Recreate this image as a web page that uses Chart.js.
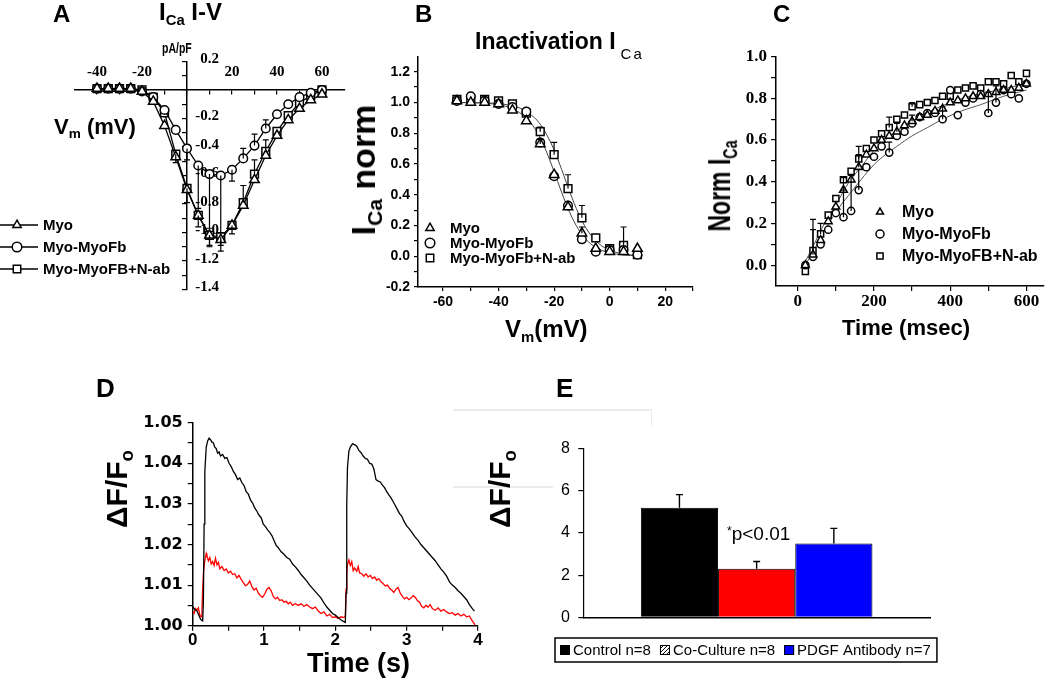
<!DOCTYPE html>
<html>
<head>
<meta charset="utf-8">
<script src="https://cdn.jsdelivr.net/npm/chart.js@4.4.0/dist/chart.umd.min.js"></script>
<style>
  html, body { margin: 0; padding: 0; background: #fff; }
  #page { position: relative; width: 1050px; height: 684px; overflow: hidden;
          font-family: "Liberation Sans", Arial, sans-serif; color: #000; }
  canvas { position: absolute; left: 0; top: 0; }
  .t { position: absolute; white-space: nowrap; line-height: 1; font-weight: bold; z-index: 5; }
  .t sub { font-size: 0.62em; vertical-align: -0.32em; line-height: 0; }
  .rot { transform-origin: 50% 50%; }
  .faint { position: absolute; background: #ececec; }
</style>
</head>
<body>
<div id="page">
  <canvas id="cA" width="1050" height="684"></canvas>
  <canvas id="cB" width="1050" height="684"></canvas>
  <canvas id="cC" width="1050" height="684"></canvas>
  <canvas id="cD" width="1050" height="684"></canvas>
  <canvas id="cE" width="1050" height="684"></canvas>

  <div class="faint" style="left:453px;top:409px;width:199px;height:2px"></div>
  <div class="faint" style="left:651px;top:410px;width:1px;height:17px"></div>
  <div class="faint" style="left:453px;top:486px;width:100px;height:2px"></div>

  <!-- panel letters -->
  <div class="t" style="left:53px;top:2px;font-size:24px">A</div>
  <div class="t" style="left:415px;top:2px;font-size:24px">B</div>
  <div class="t" style="left:773px;top:2px;font-size:24px">C</div>
  <div class="t" style="left:96px;top:375px;font-size:26px">D</div>
  <div class="t" style="left:556px;top:375px;font-size:26px">E</div>

  <!-- panel A texts -->
  <div class="t" style="left:159px;top:0px;font-size:24px">I<sub>Ca</sub> I-V</div>
  <div class="t" style="left:162px;top:40px;font-size:15px;transform:scaleX(0.7);transform-origin:0 0">pA/pF</div>
  <div class="t" style="left:54px;top:116px;font-size:22px">V<sub>m</sub> (mV)</div>

  <!-- panel B texts -->
  <div class="t" style="left:475px;top:30px;font-size:23px">Inactivation I<sub style="font-weight:normal;font-size:15px;letter-spacing:2px;margin-left:5px;vertical-align:-10px">Ca</sub></div>
  <div class="t rot" style="left:363px;top:170px;font-size:34px;transform:translate(-50%,-50%) rotate(-90deg)">I<sub>Ca</sub> norm</div>
  <div class="t" style="left:505px;top:317px;font-size:24px">V<sub>m</sub>(mV)</div>

  <!-- panel C texts -->
  <div class="t rot" style="left:720px;top:186px;font-size:23px;transform:translate(-50%,-50%) rotate(-90deg) scaleY(1.4)">Norm I<sub>Ca</sub></div>
  <div class="t" style="left:842px;top:317px;font-size:22px">Time (msec)</div>

  <!-- panel D texts -->
  <div class="t rot" style="left:117px;top:489px;font-size:30px;transform:translate(-50%,-50%) rotate(-90deg)">ΔF/F<sub>o</sub></div>
  <div class="t" style="left:307px;top:650px;font-size:27px">Time (s)</div>

  <!-- panel E texts -->
  <div class="t rot" style="left:500px;top:489px;font-size:30px;transform:translate(-50%,-50%) rotate(-90deg)">ΔF/F<sub>o</sub></div>
  <div class="t" style="left:727px;top:524px;font-size:19px;font-weight:normal"><span style="font-size:12px;vertical-align:5px">*</span>p&lt;0.01</div>
</div>

<script>
// ---------- Panel A : I-V relation ----------
const ivVoltage = [-40, -35, -30, -25, -20, -15, -10, -5, 0, 5, 10, 15, 20, 25, 30, 35, 40, 45, 50, 55, 60];
const ivMyo     = [0.01, 0.01, 0.01, 0.01, -0.01, -0.08, -0.25, -0.47, -0.70, -0.88, -1.02, -1.05, -0.95, -0.81, -0.63, -0.46, -0.32, -0.21, -0.13, -0.07, -0.03];
const ivMyoFb   = [0.01, 0.01, 0.01, 0.01, -0.01, -0.05, -0.14, -0.28, -0.41, -0.53, -0.59, -0.60, -0.56, -0.48, -0.39, -0.27, -0.17, -0.10, -0.05, -0.02, 0];
const ivNab     = [0.01, 0.01, 0.01, 0.01, 0, -0.05, -0.16, -0.45, -0.69, -0.88, -1.02, -1.03, -0.95, -0.79, -0.59, -0.43, -0.29, -0.18, -0.09, -0.04, 0];
// signed error bars (negative = drawn downward)
const ivMyoErr   = [0, 0, 0, 0, 0, 0, 0, 0, 0, 0, -0.07, -0.08, -0.06, 0, 0, 0, 0, 0, 0, 0, 0];
const ivMyoFbErr = [0, 0, 0, 0, 0, 0, 0, 0, -0.08, -0.3, -0.38, -0.4, -0.08, 0.07, 0.08, 0.06, 0, 0, 0, 0, 0];
const ivNabErr   = [0, 0, 0, 0, 0, 0, 0, -0.06, -0.1, -0.08, -0.08, -0.06, 0, 0.12, 0.1, 0.08, 0, 0, 0, 0, 0];
const ivTicksX  = [-40, -30, -20, -10, 0, 10, 20, 30, 40, 50, 60];
const ivTicksY  = [-1.4, -1.3, -1.2, -1.1, -1.0, -0.9, -0.8, -0.7, -0.6, -0.5, -0.4, -0.3, -0.2, -0.1, 0, 0.1, 0.2];
const ivLabelsX = [-40, -20, 20, 40, 60];
const ivLabelsY = [0.2, -0.2, -0.4, -0.6, -0.8, -1.0, -1.2, -1.4];

// ---------- Panel B : steady-state inactivation ----------
const inactV     = [-55, -50, -45, -40, -35, -30, -25, -20, -15, -10, -5, 0, 5, 10];
const inactMyo   = [1.01, 1.00, 1.00, 0.99, 0.95, 0.88, 0.73, 0.53, 0.32, 0.15, 0.05, 0.03, 0.03, 0.05];
const inactMyoFb = [1.01, 1.04, 1.01, 0.99, 0.97, 0.94, 0.74, 0.52, 0.33, 0.11, 0.03, 0.04, 0.04, 0.01];
const inactNab   = [1.02, 1.02, 1.02, 1.01, 0.99, 0.93, 0.81, 0.66, 0.44, 0.25, 0.12, 0.05, 0.07, 0.01];
const inactMyoErr = [0, 0, 0, 0, 0, 0, 0.03, 0, 0, 0.04, 0, 0, 0, 0];
const inactNabErr = [0, 0, 0, 0, 0, 0, 0.03, 0.08, 0.09, 0.08, 0, 0, 0.12, 0];
const inactFit1V = [-57, -50, -45, -40, -35, -30, -27, -24, -21, -18, -15, -12, -9, -6, -3, 0, 5, 10];
const inactFit1  = [1.00, 0.998, 0.995, 0.985, 0.961, 0.900, 0.832, 0.731, 0.599, 0.450, 0.310, 0.198, 0.119, 0.069, 0.039, 0.022, 0.008, 0.003];
const inactFit2V = [-57, -47, -42, -37, -32, -27, -24, -21, -18, -15, -12, -9, -6, -3, 0, 3, 8, 12];
const inactFit2  = [1.00, 0.998, 0.995, 0.985, 0.961, 0.900, 0.832, 0.731, 0.599, 0.450, 0.310, 0.198, 0.119, 0.069, 0.039, 0.022, 0.008, 0.003];
const inactTicksX  = [-60, -50, -40, -30, -20, -10, 0, 10, 20, 30];
const inactLabelsX = [-60, -40, -20, 0, 20];
const inactTicksY  = [-0.2, -0.1, 0, 0.1, 0.2, 0.3, 0.4, 0.5, 0.6, 0.7, 0.8, 0.9, 1.0, 1.1, 1.2];
const inactLabelsY = [-0.2, 0, 0.2, 0.4, 0.6, 0.8, 1.0, 1.2];

// ---------- Panel C : recovery from inactivation ----------
const recT     = [20, 40, 60, 80, 100, 120, 140, 160, 180, 200, 220, 240, 260, 280, 300, 320, 340, 360, 380, 400, 420, 440, 460, 480, 500, 520, 540, 560, 580, 600];
const recMyo   = [0.00, 0.05, 0.12, 0.21, 0.28, 0.36, 0.41, 0.47, 0.53, 0.56, 0.60, 0.62, 0.64, 0.67, 0.69, 0.71, 0.72, 0.74, 0.75, 0.78, 0.79, 0.80, 0.81, 0.81, 0.82, 0.83, 0.84, 0.84, 0.85, 0.87];
const recMyoFb = [0.00, 0.04, 0.10, 0.17, 0.25, 0.23, 0.26, 0.36, 0.47, 0.52, 0.57, 0.54, 0.62, 0.64, 0.68, 0.71, 0.73, 0.73, 0.70, 0.84, 0.72, 0.78, 0.80, 0.82, 0.73, 0.78, 0.84, 0.82, 0.80, 0.87];
const recNab   = [-0.03, 0.07, 0.15, 0.24, 0.32, 0.41, 0.45, 0.51, 0.56, 0.60, 0.63, 0.66, 0.70, 0.72, 0.76, 0.77, 0.78, 0.79, 0.81, 0.81, 0.84, 0.85, 0.86, 0.85, 0.88, 0.88, 0.87, 0.91, 0.88, 0.92];
const recMyoErr   = [0, 0.17, 0, 0, 0, 0.06, 0, 0.06, 0, 0, 0, 0, 0.04, 0, 0.03, 0, 0, 0, 0, 0, 0, 0, 0, 0, 0, 0, 0, 0, 0, 0];
const recMyoFbErr = [0, 0, 0, 0, 0, 0.13, 0.17, 0.1, 0, 0, 0, 0.05, 0, 0, 0, 0, 0, 0, 0.06, 0, 0, 0, 0, 0, 0.1, 0.08, 0, 0, 0, 0];
const recNabErr   = [0, 0.1, 0.05, 0, 0, 0, 0, 0.06, 0, 0, 0, 0.05, 0, 0, 0.02, 0, 0, 0, 0, 0, 0, 0, 0, 0, 0, 0, 0, 0, 0, 0];
const recFit1 = [[15, 0], [40, 0.09], [70, 0.2], [100, 0.29], [135, 0.4], [170, 0.48], [200, 0.55], [250, 0.63], [300, 0.69], [350, 0.74], [400, 0.78], [450, 0.81], [500, 0.83], [550, 0.85], [600, 0.87]];
const recFit2 = [[20, 0], [45, 0.08], [75, 0.18], [110, 0.28], [140, 0.35], [175, 0.43], [210, 0.5], [260, 0.57], [300, 0.62], [340, 0.66], [380, 0.7], [430, 0.74], [480, 0.77], [540, 0.81], [600, 0.84]];
const recTicksX  = [0, 100, 200, 300, 400, 500, 600];
const recLabelsX = [0, 200, 400, 600];
const recTicksY  = [0, 0.1, 0.2, 0.3, 0.4, 0.5, 0.6, 0.7, 0.8, 0.9, 1.0];
const recLabelsY = [0, 0.2, 0.4, 0.6, 0.8, 1.0];

// ---------- Panel D : calcium transients [time s, dF/F0] ----------
const traceControl = [
  [0.00, 1.0047], [0.03, 1.0040], [0.06, 1.0036], [0.08, 1.0028], [0.10, 1.0020], [0.12, 1.0014], [0.14, 1.0012],
  [0.15, 1.0060], [0.16, 1.0250], [0.17, 1.0380], [0.19, 1.0440], [0.21, 1.0455], [0.23, 1.0462], [0.25, 1.0458],
  [0.27, 1.0452], [0.29, 1.0450], [0.31, 1.0440], [0.33, 1.0436], [0.35, 1.0425], [0.37, 1.0428], [0.39, 1.0418],
  [0.42, 1.0422], [0.45, 1.0412], [0.48, 1.0414], [0.51, 1.0400], [0.54, 1.0392], [0.57, 1.0380], [0.60, 1.0372],
  [0.63, 1.0360], [0.66, 1.0364], [0.69, 1.0352], [0.72, 1.0345], [0.75, 1.0330], [0.78, 1.0324], [0.81, 1.0310],
  [0.84, 1.0302], [0.87, 1.0290], [0.90, 1.0282], [0.93, 1.0272], [0.96, 1.0266], [0.99, 1.0250], [1.02, 1.0244],
  [1.05, 1.0236], [1.08, 1.0230], [1.11, 1.0222], [1.14, 1.0210], [1.17, 1.0198], [1.20, 1.0192], [1.24, 1.0182],
  [1.28, 1.0176], [1.32, 1.0168], [1.36, 1.0164], [1.40, 1.0152], [1.44, 1.0145], [1.48, 1.0136], [1.52, 1.0126],
  [1.56, 1.0118], [1.60, 1.0110], [1.64, 1.0100], [1.68, 1.0092], [1.72, 1.0084], [1.76, 1.0076], [1.80, 1.0068],
  [1.84, 1.0056], [1.88, 1.0046], [1.92, 1.0038], [1.96, 1.0030], [2.00, 1.0026], [2.04, 1.0020], [2.08, 1.0014],
  [2.12, 1.0010], [2.14, 1.0008], [2.15, 1.0080], [2.16, 1.0300], [2.17, 1.0390], [2.19, 1.0430], [2.21, 1.0440],
  [2.24, 1.0448], [2.27, 1.0446], [2.30, 1.0442], [2.33, 1.0432], [2.36, 1.0426], [2.39, 1.0418], [2.42, 1.0412],
  [2.45, 1.0410], [2.48, 1.0400], [2.51, 1.0398], [2.54, 1.0386], [2.57, 1.0360], [2.60, 1.0356], [2.63, 1.0354],
  [2.66, 1.0346], [2.69, 1.0340], [2.72, 1.0330], [2.75, 1.0322], [2.78, 1.0315], [2.81, 1.0306], [2.84, 1.0296],
  [2.87, 1.0286], [2.90, 1.0276], [2.93, 1.0270], [2.96, 1.0258], [3.00, 1.0246], [3.04, 1.0238], [3.08, 1.0228],
  [3.12, 1.0218], [3.16, 1.0210], [3.20, 1.0200], [3.24, 1.0192], [3.28, 1.0184], [3.32, 1.0176], [3.36, 1.0168],
  [3.40, 1.0160], [3.44, 1.0150], [3.48, 1.0140], [3.52, 1.0132], [3.56, 1.0122], [3.60, 1.0108], [3.64, 1.0100],
  [3.68, 1.0094], [3.72, 1.0086], [3.76, 1.0080], [3.80, 1.0072], [3.84, 1.0064], [3.88, 1.0052], [3.92, 1.0042],
  [3.95, 1.0036]
];
const traceCoculture = [
  [0.00, 1.0034], [0.02, 1.0030], [0.04, 1.0042], [0.06, 1.0038], [0.08, 1.0044], [0.10, 1.0026], [0.12, 1.0022],
  [0.13, 1.0040], [0.14, 1.0090], [0.15, 1.0130], [0.17, 1.0160], [0.19, 1.0178], [0.20, 1.0172], [0.22, 1.0160],
  [0.24, 1.0168], [0.26, 1.0152], [0.28, 1.0158], [0.30, 1.0148], [0.32, 1.0166], [0.34, 1.0150], [0.36, 1.0156],
  [0.38, 1.0140], [0.41, 1.0146], [0.44, 1.0136], [0.47, 1.0140], [0.50, 1.0130], [0.53, 1.0134], [0.56, 1.0126],
  [0.59, 1.0128], [0.62, 1.0118], [0.65, 1.0124], [0.68, 1.0114], [0.71, 1.0106], [0.74, 1.0098], [0.77, 1.0102],
  [0.80, 1.0110], [0.83, 1.0096], [0.86, 1.0088], [0.89, 1.0092], [0.92, 1.0080], [0.95, 1.0074], [0.98, 1.0070],
  [1.01, 1.0078], [1.04, 1.0090], [1.07, 1.0094], [1.10, 1.0086], [1.13, 1.0072], [1.16, 1.0066], [1.19, 1.0070],
  [1.22, 1.0062], [1.25, 1.0064], [1.28, 1.0058], [1.31, 1.0060], [1.34, 1.0054], [1.37, 1.0058], [1.40, 1.0050],
  [1.44, 1.0054], [1.48, 1.0050], [1.52, 1.0054], [1.56, 1.0048], [1.60, 1.0052], [1.64, 1.0046], [1.68, 1.0042],
  [1.72, 1.0046], [1.76, 1.0036], [1.80, 1.0030], [1.84, 1.0034], [1.88, 1.0024], [1.92, 1.0028], [1.96, 1.0020],
  [2.00, 1.0022], [2.04, 1.0018], [2.08, 1.0022], [2.12, 1.0020], [2.14, 1.0024], [2.15, 1.0090], [2.16, 1.0130],
  [2.17, 1.0150], [2.19, 1.0162], [2.21, 1.0148], [2.23, 1.0158], [2.25, 1.0136], [2.27, 1.0142], [2.30, 1.0134],
  [2.32, 1.0146], [2.34, 1.0130], [2.37, 1.0128], [2.40, 1.0122], [2.43, 1.0128], [2.46, 1.0120], [2.49, 1.0124],
  [2.52, 1.0116], [2.55, 1.0120], [2.58, 1.0112], [2.61, 1.0116], [2.64, 1.0108], [2.67, 1.0104], [2.70, 1.0098],
  [2.73, 1.0100], [2.76, 1.0092], [2.79, 1.0088], [2.82, 1.0082], [2.85, 1.0090], [2.88, 1.0094], [2.91, 1.0080],
  [2.94, 1.0072], [2.97, 1.0066], [3.00, 1.0070], [3.03, 1.0064], [3.06, 1.0068], [3.09, 1.0074], [3.12, 1.0070],
  [3.15, 1.0062], [3.18, 1.0058], [3.21, 1.0048], [3.24, 1.0044], [3.27, 1.0050], [3.30, 1.0046], [3.33, 1.0052],
  [3.36, 1.0042], [3.40, 1.0038], [3.44, 1.0044], [3.48, 1.0036], [3.52, 1.0040], [3.56, 1.0034], [3.60, 1.0030],
  [3.64, 1.0032], [3.68, 1.0026], [3.72, 1.0030], [3.76, 1.0024], [3.80, 1.0028], [3.84, 1.0022], [3.88, 1.0024],
  [3.92, 1.0012], [3.96, 1.0002]
];
const transTicksX  = [0, 0.5, 1, 1.5, 2, 2.5, 3, 3.5, 4];
const transLabelsX = [0, 1, 2, 3, 4];
const transTicksY  = [1.000, 1.005, 1.010, 1.015, 1.020, 1.025, 1.030, 1.035, 1.040, 1.045, 1.050];
const transLabelsY = [1.00, 1.01, 1.02, 1.03, 1.04, 1.05];

// ---------- Panel E : transient amplitude ----------
const ampGroups = ['Control n=8', 'Co-Culture n=8', 'PDGF Antibody n=7'];
const ampMeans  = [5.2, 2.3, 3.5];
const ampErrors = [0.62, 0.35, 0.72];
const ampColors = ['#000000', '#ff0000', '#0000ff'];
const ampTicksY = [0, 2, 4, 6, 8];

// ---------- helpers ----------
Chart.defaults.font.family = '"Liberation Sans", Arial, sans-serif';
Chart.defaults.color = '#000';
Chart.defaults.animation = false;
Chart.defaults.plugins.legend.display = false;
Chart.defaults.plugins.tooltip.enabled = false;

function pts(xs, ys) { return xs.map((x, i) => ({ x: x, y: ys[i] })); }
function pairs(list) { return list.map(p => ({ x: p[0], y: p[1] })); }
function fixSize(size) {
  return function (scale) {
    if (scale.isHorizontal()) scale.height = size; else scale.width = size;
    scale.paddingLeft = scale.paddingRight = scale.paddingTop = scale.paddingBottom = 0;
  };
}
function tickList(values) {
  return function (scale) { scale.ticks = values.map(v => ({ value: v })); };
}
function labelOnly(list, digits) {
  return function (v) {
    return list.some(l => Math.abs(l - v) < 1e-9) ? Number(v).toFixed(digits) : '';
  };
}
const boldSans = size => ({ family: '"Liberation Sans", Arial, sans-serif', weight: 'bold', size: size });
const boldSerif = size => ({ family: '"Liberation Serif", "Times New Roman", serif', weight: 'bold', size: size });
const axisGrid = len => ({ display: true, drawOnChartArea: false, drawTicks: true, tickLength: len, color: '#000', lineWidth: 1.2 });
const axisBorder = w => ({ display: true, color: '#000', width: w });
const openMarker = { pointBackgroundColor: '#fff', pointBorderColor: '#000', pointBorderWidth: 1.5 };

// error bars from dataset.errors (signed offsets from the value)
const errorBars = {
  id: 'errorBars',
  afterDatasetsDraw(chart, args, opts) {
    const ctx = chart.ctx;
    const cap = (opts && opts.cap) || 3;
    ctx.save();
    ctx.strokeStyle = '#000';
    ctx.lineWidth = (opts && opts.width) || 1.2;
    chart.data.datasets.forEach((ds, di) => {
      if (!ds.errors) return;
      const meta = chart.getDatasetMeta(di);
      const ys = chart.scales[meta.yAxisID];
      meta.data.forEach((el, i) => {
        const e = ds.errors[i];
        if (!e) return;
        const raw = ds.data[i];
        const v = typeof raw === 'object' ? raw.y : raw;
        const y0 = ys.getPixelForValue(v);
        const y1 = ys.getPixelForValue(v + e);
        ctx.beginPath();
        ctx.moveTo(el.x, y0); ctx.lineTo(el.x, y1);
        ctx.moveTo(el.x - cap, y1); ctx.lineTo(el.x + cap, y1);
        ctx.stroke();
      });
    });
    ctx.restore();
  }
};

function drawMarker(ctx, style, x, y, r) {
  if (Chart.helpers && Chart.helpers.drawPoint) {
    Chart.helpers.drawPoint(ctx, { pointStyle: style, radius: r, borderWidth: 1.5, rotation: 0 }, x, y);
    return;
  }
  ctx.beginPath();
  if (style === 'triangle') {
    ctx.moveTo(x, y - r); ctx.lineTo(x + r * 0.866, y + r * 0.5); ctx.lineTo(x - r * 0.866, y + r * 0.5); ctx.closePath();
  } else if (style === 'rect') {
    const s = r * Math.SQRT1_2; ctx.rect(x - s, y - s, 2 * s, 2 * s);
  } else {
    ctx.arc(x, y, r, 0, Math.PI * 2);
  }
  ctx.fill(); ctx.stroke();
}

// legend with open markers, placed at fixed spot inside the panel
const markerLegend = {
  id: 'markerLegend',
  afterDraw(chart, args, o) {
    if (!o || o.x === undefined) return;
    const ctx = chart.ctx;
    const sets = chart.data.datasets.filter(d => d.label);
    ctx.save();
    ctx.font = o.font;
    ctx.textBaseline = 'middle';
    ctx.lineWidth = 1.5;
    ctx.strokeStyle = '#000';
    sets.forEach((d, i) => {
      const y = o.y + i * o.dy;
      if (o.line) {
        ctx.beginPath(); ctx.moveTo(o.line[0], y); ctx.lineTo(o.line[1], y); ctx.stroke();
      }
      ctx.fillStyle = '#fff';
      drawMarker(ctx, d.pointStyle, o.x, y, d.pointStyle === 'rect' ? o.radius * 1.1 : o.radius);
      ctx.fillStyle = '#000';
      ctx.fillText(d.label, o.textX, y + 1);
    });
    ctx.restore();
  }
};

// tick labels for the panel with axes crossing at the origin
const crossLabels = {
  id: 'crossLabels',
  beforeDatasetsDraw(chart, args, o) {
    if (!o || !o.xLabels) return;
    const xs = chart.scales.x, ys = chart.scales.y, ctx = chart.ctx;
    const x0 = xs.getPixelForValue(0), y0 = ys.getPixelForValue(0);
    ctx.save();
    ctx.font = o.font;
    ctx.fillStyle = '#000';
    ctx.textBaseline = 'middle';
    ctx.textAlign = 'center';
    o.xLabels.forEach(v => ctx.fillText(String(v), xs.getPixelForValue(v), y0 + o.xOffset));
    ctx.textAlign = 'right';
    o.yLabels.forEach(v => ctx.fillText(v.toFixed(1), x0 + o.yOffset, ys.getPixelForValue(v) + o.yShift));
    ctx.restore();
  }
};

// boxed legend for the bar panel
const boxLegend = {
  id: 'boxLegend',
  afterDraw(chart, args, o) {
    if (!o || o.x === undefined) return;
    const ctx = chart.ctx;
    ctx.save();
    ctx.font = o.font;
    ctx.textBaseline = 'middle';
    let x = o.x;
    chart.data.datasets.forEach(d => {
      const by = o.y - 5;
      ctx.lineWidth = 1;
      ctx.strokeStyle = '#000';
      if (d.legendHatch) {
        ctx.fillStyle = '#fff';
        ctx.fillRect(x, by, 10, 10);
        ctx.beginPath();
        for (let k = -6; k <= 10; k += 4) { ctx.moveTo(x + k, by + 10); ctx.lineTo(x + k + 10, by); }
        ctx.save(); ctx.rect(x, by, 10, 10); ctx.clip(); ctx.stroke(); ctx.restore();
      } else {
        ctx.fillStyle = d.backgroundColor;
        ctx.fillRect(x, by, 10, 10);
      }
      ctx.strokeRect(x + 0.5, by + 0.5, 9, 9);
      ctx.fillStyle = '#000';
      ctx.fillText(d.label, x + 13, o.y + 1);
      x = x + 13 + ctx.measureText(d.label).width + 9;
    });
    ctx.lineWidth = 1.5;
    ctx.strokeRect(o.x - 5, o.y - 12, x - 9 + 6 - (o.x - 5), 24);
    ctx.restore();
  }
};

// ---------- Panel A ----------
new Chart(document.getElementById('cA'), {
  type: 'scatter',
  data: {
    datasets: [
      Object.assign({ label: 'Myo', data: pts(ivVoltage, ivMyo), errors: ivMyoErr, showLine: true,
        borderColor: '#000', borderWidth: 1.3, pointStyle: 'triangle', pointRadius: 5.5 }, openMarker),
      Object.assign({ label: 'Myo-MyoFb', data: pts(ivVoltage, ivMyoFb), errors: ivMyoFbErr, showLine: true,
        borderColor: '#000', borderWidth: 1.3, pointStyle: 'circle', pointRadius: 4.3 }, openMarker),
      Object.assign({ label: 'Myo-MyoFB+N-ab', data: pts(ivVoltage, ivNab), errors: ivNabErr, showLine: true,
        borderColor: '#000', borderWidth: 1.3, pointStyle: 'rect', pointRadius: 5.5 }, openMarker)
    ]
  },
  options: {
    responsive: false,
    layout: { padding: { left: 74.5, top: 61.5, right: 705.5, bottom: 394.5 } },
    scales: {
      x: { type: 'linear', min: -50, max: 70, position: { y: 0 },
           afterBuildTicks: tickList(ivTicksX), afterFit: fixSize(0),
           ticks: { display: false }, grid: axisGrid(4), border: axisBorder(1.5) },
      y: { type: 'linear', min: -1.4, max: 0.2, position: { x: 0 },
           afterBuildTicks: tickList(ivTicksY), afterFit: fixSize(0),
           ticks: { display: false }, grid: axisGrid(4), border: axisBorder(1.5) }
    },
    plugins: {
      errorBars: { cap: 3 },
      crossLabels: { xLabels: ivLabelsX, yLabels: ivLabelsY, font: 'bold 15px "Liberation Serif", serif',
                     xOffset: -18, yOffset: 32, yShift: -2 },
      markerLegend: { x: 17, y: 225, dy: 22, textX: 43, radius: 4.8, line: [0, 38],
                      font: 'bold 15px "Liberation Sans", Arial, sans-serif' }
    }
  },
  plugins: [errorBars, crossLabels, markerLegend]
});

// ---------- Panel B ----------
new Chart(document.getElementById('cB'), {
  type: 'scatter',
  data: {
    datasets: [
      Object.assign({ label: 'Myo', data: pts(inactV, inactMyo), errors: inactMyoErr,
        pointStyle: 'triangle', pointRadius: 5.5 }, openMarker),
      Object.assign({ label: 'Myo-MyoFb', data: pts(inactV, inactMyoFb),
        pointStyle: 'circle', pointRadius: 4.3 }, openMarker),
      Object.assign({ label: 'Myo-MyoFb+N-ab', data: pts(inactV, inactNab), errors: inactNabErr,
        pointStyle: 'rect', pointRadius: 5.5 }, openMarker),
      { data: pts(inactFit1V, inactFit1), showLine: true, pointRadius: 0, borderColor: '#444', borderWidth: 1, tension: 0.3 },
      { data: pts(inactFit2V, inactFit2), showLine: true, pointRadius: 0, borderColor: '#444', borderWidth: 1, tension: 0.3 }
    ]
  },
  options: {
    responsive: false,
    layout: { padding: { left: 358, top: 56.3, right: 357, bottom: 357 } },
    scales: {
      x: { type: 'linear', min: -69, max: 30, afterBuildTicks: tickList(inactTicksX), afterFit: fixSize(40),
           ticks: { font: boldSans(14), padding: 3, autoSkip: false, maxRotation: 0, callback: labelOnly(inactLabelsX, 0) },
           grid: axisGrid(4), border: axisBorder(1.5) },
      y: { type: 'linear', min: -0.2, max: 1.3, afterBuildTicks: tickList(inactTicksY), afterFit: fixSize(60),
           ticks: { font: boldSans(14), padding: 4, autoSkip: false, callback: labelOnly(inactLabelsY, 1) },
           grid: axisGrid(4), border: axisBorder(1.5) }
    },
    plugins: {
      errorBars: { cap: 3 },
      markerLegend: { x: 430, y: 228, dy: 15, textX: 450, radius: 4.8,
                      font: 'bold 15px "Liberation Sans", Arial, sans-serif' }
    }
  },
  plugins: [errorBars, markerLegend]
});

// ---------- Panel C ----------
new Chart(document.getElementById('cC'), {
  type: 'scatter',
  data: {
    datasets: [
      Object.assign({ label: 'Myo', data: pts(recT, recMyo), errors: recMyoErr,
        pointStyle: 'triangle', pointRadius: 4.5 }, openMarker),
      Object.assign({ label: 'Myo-MyoFb', data: pts(recT, recMyoFb), errors: recMyoFbErr,
        pointStyle: 'circle', pointRadius: 3.6 }, openMarker),
      Object.assign({ label: 'Myo-MyoFB+N-ab', data: pts(recT, recNab), errors: recNabErr,
        pointStyle: 'rect', pointRadius: 4.3 }, openMarker),
      { data: pairs(recFit1), showLine: true, pointRadius: 0, borderColor: '#555', borderWidth: 1, tension: 0.3 },
      { data: pairs(recFit2), showLine: true, pointRadius: 0, borderColor: '#555', borderWidth: 1, tension: 0.3 }
    ]
  },
  options: {
    responsive: false,
    layout: { padding: { left: 716, top: 56.7, right: 2, bottom: 358 } },
    scales: {
      x: { type: 'linear', min: -57, max: 646, afterBuildTicks: tickList(recTicksX), afterFit: fixSize(40),
           ticks: { font: boldSerif(17), padding: 0, autoSkip: false, maxRotation: 0, callback: labelOnly(recLabelsX, 0) },
           grid: axisGrid(5), border: axisBorder(1.5) },
      y: { type: 'linear', min: -0.1, max: 1.0, afterBuildTicks: tickList(recTicksY), afterFit: fixSize(60),
           ticks: { font: boldSerif(17), padding: 4, autoSkip: false, callback: labelOnly(recLabelsY, 1) },
           grid: axisGrid(5), border: axisBorder(1.5) }
    },
    plugins: {
      errorBars: { cap: 3 },
      markerLegend: { x: 880, y: 212, dy: 22, textX: 902, radius: 4,
                      font: 'bold 16px "Liberation Sans", Arial, sans-serif' }
    }
  },
  plugins: [errorBars, markerLegend]
});

// ---------- Panel D ----------
new Chart(document.getElementById('cD'), {
  type: 'scatter',
  data: {
    datasets: [
      { data: pairs(traceControl), showLine: true, pointRadius: 0, borderColor: '#000', borderWidth: 1.3 },
      { data: pairs(traceCoculture), showLine: true, pointRadius: 0, borderColor: '#ff0000', borderWidth: 1.3 }
    ]
  },
  options: {
    responsive: false,
    layout: { padding: { left: 132.7, top: 422.7, right: 572, bottom: 28.3 } },
    scales: {
      x: { type: 'linear', min: 0, max: 4, afterBuildTicks: tickList(transTicksX), afterFit: fixSize(30),
           ticks: { font: boldSans(17), padding: -1, autoSkip: false, maxRotation: 0, callback: labelOnly(transLabelsX, 0) },
           grid: axisGrid(5), border: axisBorder(1.5) },
      y: { type: 'linear', min: 1.0, max: 1.05, afterBuildTicks: tickList(transTicksY), afterFit: fixSize(60),
           ticks: { font: { family: '"DejaVu Sans", sans-serif', weight: 'bold', size: 16 }, padding: 5, autoSkip: false,
                    callback: labelOnly(transLabelsY, 2) },
           grid: axisGrid(5), border: axisBorder(1.5) }
    }
  }
});

// ---------- Panel E ----------
new Chart(document.getElementById('cE'), {
  type: 'bar',
  data: {
    labels: [''],
    datasets: ampGroups.map((g, i) => ({
      label: g, data: [ampMeans[i]], errors: [ampErrors[i]], backgroundColor: ampColors[i],
      legendHatch: i === 1
    }))
  },
  options: {
    responsive: false,
    layout: { padding: { left: 543.3, top: 448.7, right: 120, bottom: 56.7 } },
    datasets: { bar: { categoryPercentage: 0.668, barPercentage: 1, borderColor: '#000', borderWidth: 1 } },
    scales: {
      x: { afterFit: fixSize(10), ticks: { display: false }, grid: { display: false }, border: axisBorder(1.5) },
      y: { min: 0, max: 8, afterBuildTicks: tickList(ampTicksY), afterFit: fixSize(40),
           ticks: { font: { size: 16 }, padding: 8.3, callback: v => String(v) },
           grid: axisGrid(5), border: axisBorder(1.2) }
    },
    plugins: {
      errorBars: { cap: 3.5, width: 1.4 },
      boxLegend: { x: 560, y: 650, font: '15px "Liberation Sans", Arial, sans-serif' }
    }
  },
  plugins: [errorBars, boxLegend]
});
</script>
</body>
</html>
